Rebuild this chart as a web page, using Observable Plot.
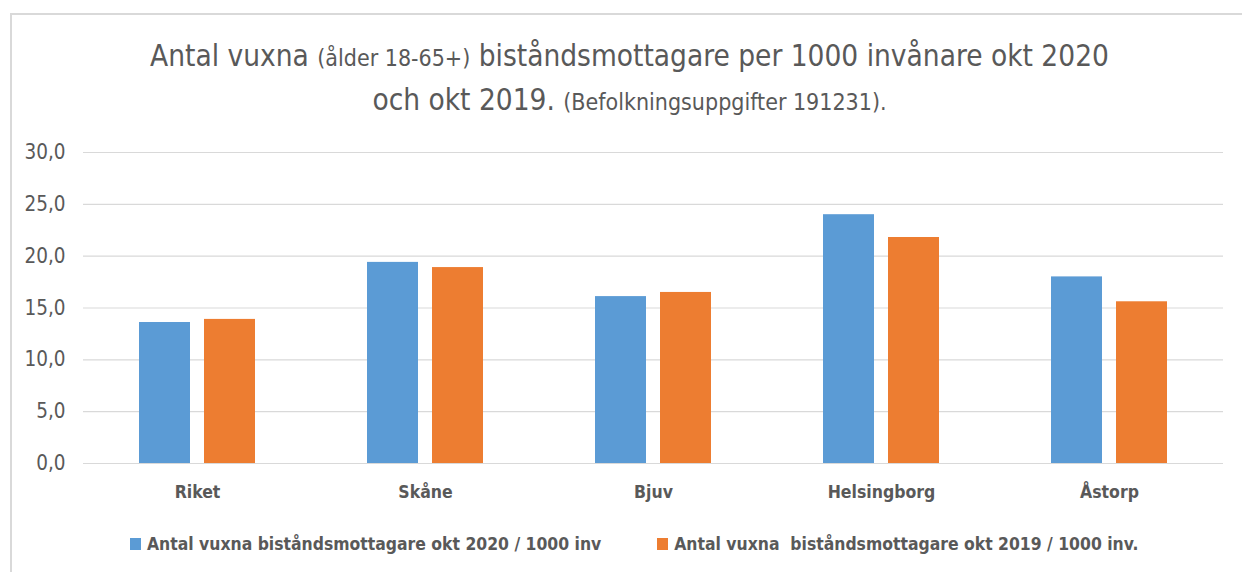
<!DOCTYPE html>
<html>
<head>
<meta charset="utf-8">
<script src="https://cdn.jsdelivr.net/npm/d3@7"></script>
<script src="https://cdn.jsdelivr.net/npm/@observablehq/plot@0.6"></script>
<style>
  html, body { margin: 0; padding: 0; background: #fff; }
  body { width: 1242px; height: 572px; position: relative; overflow: hidden;
         font-family: "Liberation Sans Narrow", "DejaVu Sans Condensed", "Liberation Sans", sans-serif; color: #595959; }
  #frame { position: absolute; left: 10px; top: 13px; width: 1240px; height: 600px;
           border-top: 2px solid #D9D9D9; border-left: 2px solid #D9D9D9; box-sizing: border-box; }
  #title { position: absolute; left: 0; top: 35px; width: 1259px; text-align: center;
           font-size: 29.5px; line-height: 42px; color: #595959; }
  #title .small { font-size: 23px; }
  #chart { position: absolute; left: 0; top: 130px; }
  #legend { position: absolute; left: 130px; top: 534px; display: flex; align-items: center;
            font-size: 17.4px; font-weight: bold; color: #595959; white-space: pre; }
  .sw { display: inline-block; width: 11px; height: 12px; margin-right: 6px; }
  .item { display: flex; align-items: center; }
</style>
</head>
<body>
<div id="frame"></div>
<div id="title">Antal vuxna <span class="small">(ålder 18-65+)</span> biståndsmottagare per 1000 invånare okt 2020<br>och okt 2019. <span class="small">(Befolkningsuppgifter 191231).</span></div>
<div id="chart"></div>
<div id="legend"></div>
<script>
const categories = ["Riket", "Skåne", "Bjuv", "Helsingborg", "Åstorp"];
const series = ["2020", "2019"];
const seriesLabels = [
  "Antal vuxna biståndsmottagare okt 2020 / 1000 inv",
  "Antal vuxna  biståndsmottagare okt 2019 / 1000 inv."
];
const values2020 = [13.6, 19.4, 16.1, 24.0, 18.0];
const values2019 = [13.9, 18.9, 16.5, 21.8, 15.6];
const yTicks = [0, 5, 10, 15, 20, 25, 30];
const colors = ["#5B9BD5", "#ED7D31"];

const data = [];
categories.forEach((c, i) => {
  data.push({category: c, series: "2020", value: values2020[i]});
  data.push({category: c, series: "2019", value: values2019[i]});
});

const fontFam = '"Liberation Sans Narrow", "DejaVu Sans Condensed", "Liberation Sans", sans-serif';

const plot = Plot.plot({
  width: 1242,
  height: 383,
  marginTop: 22,
  marginBottom: 50,
  marginLeft: 83,
  marginRight: 19,
  style: {fontFamily: fontFam, color: "#595959", background: "transparent"},
  fx: {domain: categories, padding: 0, label: null},
  x: {domain: series, paddingInner: 0.215, paddingOuter: 0.86, axis: null},
  y: {domain: [0, 30], ticks: yTicks, label: null},
  color: {domain: series, range: colors},
  marks: [
    Plot.ruleY(yTicks, {stroke: "#D9D9D9", strokeWidth: 1.2}),
    Plot.barY(data, {fx: "category", x: "series", y: "value", fill: "series"}),
    Plot.axisY(yTicks, {
      tickSize: 0, tickPadding: 18, fontSize: 20.5, fill: "#595959",
      tickFormat: d => d.toFixed(1).replace(".", ","), label: null
    }),
    Plot.axisFx({
      anchor: "bottom", tickSize: 0, tickPadding: 22, fontSize: 17.5, fontWeight: "bold",
      fill: "#595959", label: null
    })
  ]
});
document.getElementById("chart").appendChild(plot);

const legend = document.getElementById("legend");
seriesLabels.forEach((lab, i) => {
  const item = document.createElement("div");
  item.className = "item";
  if (i > 0) item.style.marginLeft = "56px";
  const sw = document.createElement("span");
  sw.className = "sw";
  sw.style.background = colors[i];
  const t = document.createElement("span");
  t.textContent = lab;
  item.appendChild(sw);
  item.appendChild(t);
  legend.appendChild(item);
});
</script>
</body>
</html>
